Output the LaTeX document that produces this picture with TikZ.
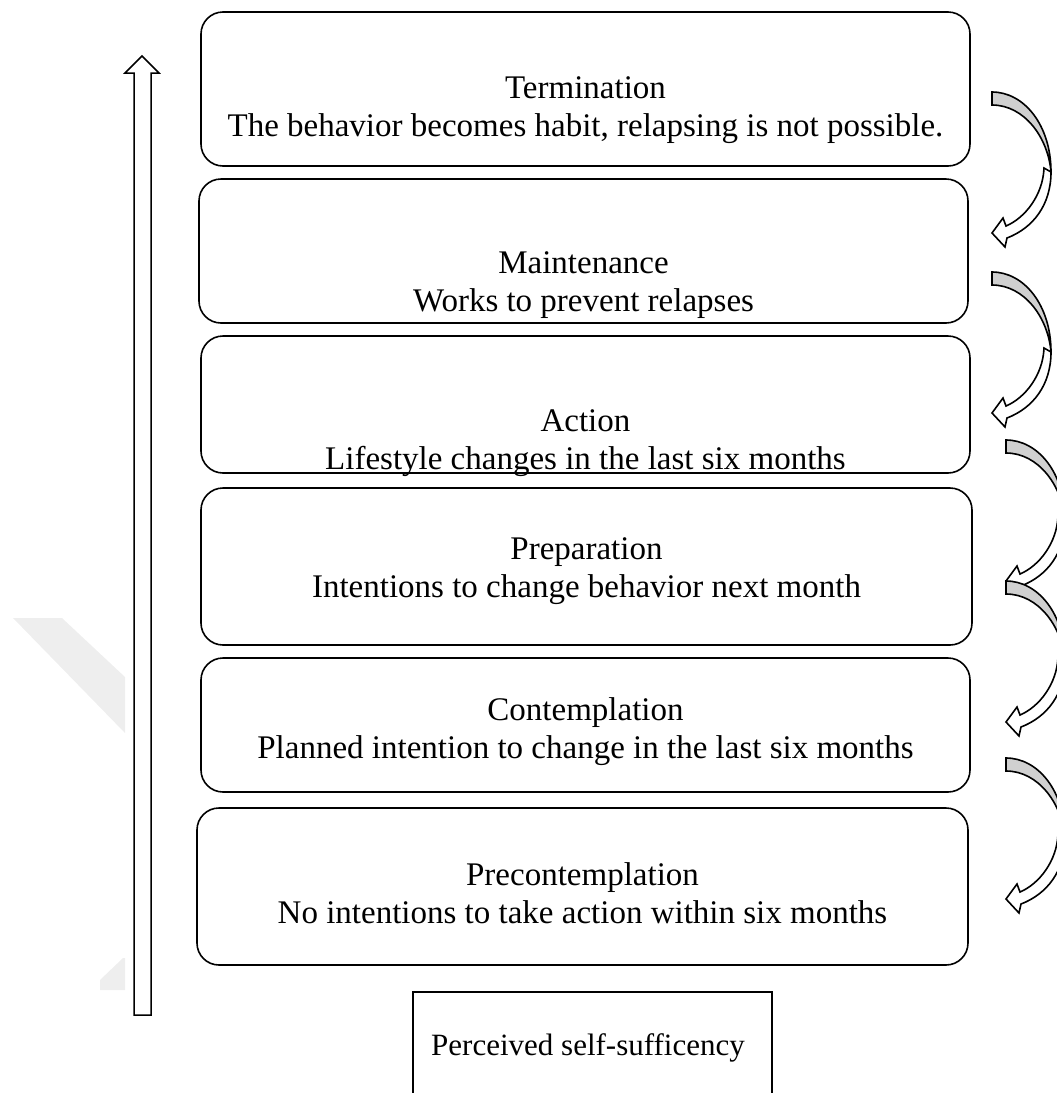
\documentclass[tikz,border=0pt]{standalone}
\usepackage{fontspec}
\setmainfont{Liberation Serif}
\usepackage{tikz}
\definecolor{backGray}{RGB}{208,208,208}
\definecolor{markGray}{RGB}{238,238,238}
\newcommand{\stageBox}[8]{%%
  %% The rounded box of the stage.
  \node[boxStyle, minimum width=#4pt, minimum height=#5pt] (#1) at (#2,#3) {};
  %% The name and the description of the stage.
  \node[textStyle] (#1Text) at (#2,#6) {#7\\#8};
}
\newcommand{\relapseArrow}[2]{%%
  \begin{scope}[shift={(#1,#2)}]
  %% The shaft and the head.
  \draw[frontStyle] (52,76) .. controls (51,103) and (33,126) .. (14,134)
    -- (11,126) -- (0,141) -- (13,155) -- (15,146)
    .. controls (41,136) and (59,113) .. (59,80) -- cycle;
  %% The back of the band.
  \draw[backStyle] (0,0) .. controls (32,0) and (59,33) .. (59,80)
    .. controls (56,45) and (32,13) .. (0,13) -- cycle;
  \end{scope}
}

\begin{document}
\begin{tikzpicture}[x=1pt,y=-1pt,%%
  boxStyle/.style={draw,line width=1.6pt,rounded corners=22pt,inner sep=0pt},%%
  plainBoxStyle/.style={draw,line width=1.6pt,inner sep=0pt},%%
  textStyle/.style={align=center,inner sep=0pt,font=\fontsize{33}{38}\selectfont},%%
  smallTextStyle/.style={inner sep=0pt,font=\fontsize{31}{38}\selectfont},%%
  frontStyle/.style={line width=1.6pt,fill=white,line join=miter},%%
  backStyle/.style={line width=1.6pt,fill=backGray,line join=miter},%%
  upStyle/.style={line width=1.5pt,fill=white,line join=miter},%%
  markStyle/.style={fill=markGray}%%
]
\useasboundingbox (0,0) rectangle (1057,1093);
\clip (0,0) rectangle (1057,1093);
%%
%% The faint mark in the background.
\fill[markStyle] (13,618) -- (62,618) -- (125,677) -- (125,733) -- cycle;
\fill[markStyle] (100,980) -- (123,958) -- (125,958) -- (125,990) -- (100,990) -- cycle;
%%
%% The stages, from the last one down to the first one.
\stageBox{termination}{585.5}{89}{769}{154}{110}{Termination}{The behavior becomes habit, relapsing is not possible.}
\stageBox{maintenance}{583.5}{251}{769}{144}{285}{Maintenance}{Works to prevent relapses}
\stageBox{action}{585.5}{404.5}{769}{137}{443}{Action}{Lifestyle changes in the last six months}
\stageBox{preparation}{586.5}{566.5}{771}{157}{571}{Preparation}{Intentions to change behavior next month}
\stageBox{contemplation}{585.5}{725}{769}{134}{732}{Contemplation}{Planned intention to change in the last six months}
\stageBox{precontemplation}{582.5}{886.5}{771}{157}{893}{Precontemplation}{No intentions to take action within six months}
%%
%% The box below the stages.
\node[plainBoxStyle, minimum width=359pt, minimum height=110pt] (selfBox) at (592.5,1047) {};
\node[smallTextStyle] (selfText) at (588,1048) {Perceived self-sufficency};
%%
%% The arrow going up.
\draw[upStyle] (134,1015) -- (134,73) -- (125,73) -- (142,56) -- (159,73)
  -- (151,73) -- (151,1015) -- cycle;
%%
%% The arrows of relapse.
\relapseArrow{992}{92}
\relapseArrow{992}{272}
\relapseArrow{1006}{440}
\relapseArrow{1006}{581}
\relapseArrow{1006}{758}
\end{tikzpicture}
\end{document}
